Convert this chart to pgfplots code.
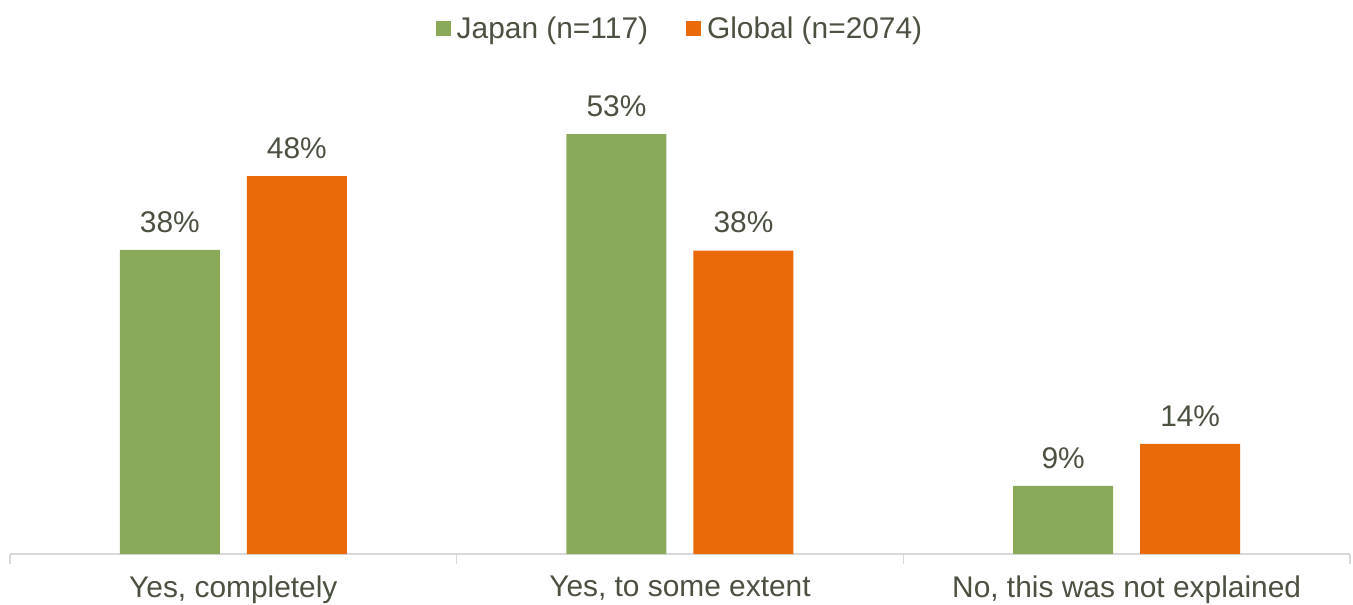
\documentclass[border=0pt]{standalone}
\usepackage{pgfplots}
\pgfplotsset{compat=1.18}
\usepackage{fontspec}
\setmainfont{Liberation Sans}
\definecolor{cgreen}{HTML}{8AAA5A}
\definecolor{corange}{HTML}{EA6A0A}
\definecolor{ctext}{HTML}{4B5141}
\definecolor{cgrid}{HTML}{D9D9D9}
\begin{document}
\begin{tikzpicture}
\useasboundingbox (-10bp,-51bp) rectangle (1343bp,554bp);
\begin{axis}[
  at={(0,0)}, anchor=south west,
  scale only axis,
  width=1340bp, height=475.2bp,
  ymin=0, ymax=60,
  xmin=-0.5, xmax=2.5,
  ybar, bar width=100bp, ybar=27bp,
  axis y line=none,
  axis x line*=bottom,
  x axis line style={cgrid, line width=1.5bp, -},
  xtick={0,1,2},
  xticklabels={{Yes, completely},{Yes, to some extent},{No, this was not explained}},
  major tick length=0pt,
  extra x ticks={-0.5,0.5,1.5,2.5},
  extra x tick labels={},
  extra x tick style={major tick length=10bp, tick align=outside, tick style={cgrid, line width=1.5bp}},
  xticklabel style={font=\fontsize{30}{35}\selectfont, text=ctext, yshift=-18bp},
  /pgf/number format/assume math mode=true,
  nodes near coords={\pgfmathprintnumber[fixed,precision=0,assume math mode=true]{\pgfplotspointmeta}\%},
  every node near coord/.append style={font=\fontsize{30}{35}\selectfont, text=ctext, yshift=14bp},
  legend columns=2,
  legend style={at={(0.5,1.106)}, anchor=center, draw=none, fill=none,
    font=\fontsize{30}{35}\selectfont, text=ctext,
    /tikz/every even column/.append style={column sep=36bp},
    /tikz/every odd column/.append style={column sep=0bp}},
  legend image code/.code={\fill[#1] (0bp,-7.5bp) rectangle (15bp,7.5bp); \path (19bp,0);},
  clip=false,
]
\addplot[fill=cgreen, draw=none] coordinates {(0,38.4) (1,53.0) (2,8.6)};
\addplot[fill=corange, draw=none] coordinates {(0,47.7) (1,38.3) (2,13.9)};
\legend{Japan (n=117), Global (n=2074)}
\end{axis}
\end{tikzpicture}
\end{document}
